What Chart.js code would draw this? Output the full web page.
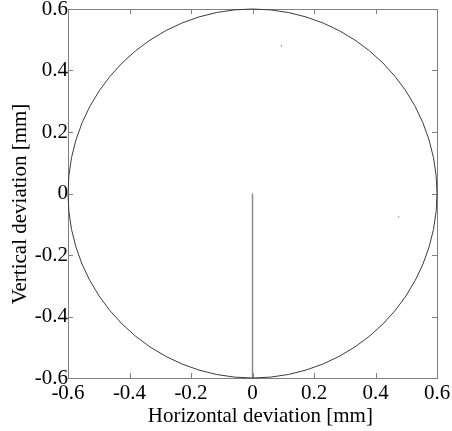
<!DOCTYPE html>
<html>
<head>
<meta charset="utf-8">
<script src="https://cdn.jsdelivr.net/npm/chart.js@4.4.1/dist/chart.umd.min.js"></script>
<style>
  body { margin: 0; background: #fff; }
  canvas { display: block; }
</style>
</head>
<body>
<canvas id="myChart" width="452" height="431"></canvas>
<script>
// axis ticks (mm)
const xTicks = [-0.6, -0.4, -0.2, 0, 0.2, 0.4, 0.6];
const yTicks = [-0.6, -0.4, -0.2, 0, 0.2, 0.4, 0.6];

// tolerance circle
const circleCenter = [0, 0];
const circleRadius = 0.6;

// deviation trace
const traceX = [0, 0];
const traceY = [0, -0.6];

// stray samples
const strayX = [0.094, 0.475];
const strayY = [0.48, -0.076];

const font = { family: '"Liberation Serif", "Times New Roman", serif', size: 21 };
const boxColor = '#808080';
const tickLen = 5;

const toPoints = (xs, ys) => xs.map((x, i) => ({ x: x, y: ys[i] }));
const fixTicks = vals => scale => { scale.ticks = vals.map(v => ({ value: v })); };
const fmt = v => (Math.abs(v) < 1e-9 ? '0' : v.toFixed(1));

// circle drawn in data units through the scales, plus inward tick marks on all four sides
const circlePlugin = {
    id: 'circle',
    afterDatasetsDraw(chart) {
        const xs = chart.scales.x, ys = chart.scales.y;
        const area = chart.chartArea;
        const c = chart.ctx;
        c.save();

        c.strokeStyle = boxColor;
        c.lineWidth = 1;
        c.beginPath();
        xTicks.forEach(v => {
            const px = Math.round(xs.getPixelForValue(v)) + 0.5;
            c.moveTo(px, area.bottom); c.lineTo(px, area.bottom - tickLen);
            c.moveTo(px, area.top); c.lineTo(px, area.top + tickLen);
        });
        yTicks.forEach(v => {
            const py = Math.round(ys.getPixelForValue(v)) + 0.5;
            c.moveTo(area.left, py); c.lineTo(area.left + tickLen, py);
            c.moveTo(area.right, py); c.lineTo(area.right - tickLen, py);
        });
        c.stroke();

        const cx = xs.getPixelForValue(circleCenter[0]);
        const cy = ys.getPixelForValue(circleCenter[1]);
        const rx = xs.getPixelForValue(circleCenter[0] + circleRadius) - cx;
        const ry = cy - ys.getPixelForValue(circleCenter[1] + circleRadius);
        c.strokeStyle = '#3c3c3c';
        c.beginPath();
        c.ellipse(cx, cy, rx, ry, 0, 0, Math.PI * 2);
        c.stroke();
        c.restore();
    }
};

const edgeAxis = (pos) => ({
    type: 'linear',
    position: pos,
    min: -0.6,
    max: 0.6,
    afterBuildTicks: fixTicks(pos === 'top' ? xTicks : yTicks),
    afterFit: s => {
        if (pos === 'top') s.height = 0; else s.width = 0;
        s.paddingTop = s.paddingBottom = s.paddingLeft = s.paddingRight = 0;
    },
    ticks: { display: false },
    grid: { drawOnChartArea: false, drawTicks: false },
    border: { color: boxColor, width: 1 }
});

new Chart(document.getElementById('myChart').getContext('2d'), {
    type: 'scatter',
    data: {
        datasets: [
            {
                data: toPoints(traceX, traceY),
                showLine: true,
                borderColor: '#8c8c8c',
                borderWidth: 1.5,
                pointRadius: 0
            },
            {
                data: toPoints(strayX, strayY),
                pointRadius: 0.8,
                borderWidth: 0,
                backgroundColor: '#9a9a9a'
            }
        ]
    },
    plugins: [circlePlugin],
    options: {
        responsive: false,
        animation: false,
        layout: { padding: { top: 9, right: 15, left: 0, bottom: 0 } },
        plugins: { legend: { display: false }, tooltip: { enabled: false } },
        scales: {
            x: {
                type: 'linear',
                position: 'bottom',
                min: -0.6,
                max: 0.6,
                afterBuildTicks: fixTicks(xTicks),
                afterFit: s => { s.height = 53; s.paddingLeft = s.paddingRight = 0; },
                ticks: { font: font, color: '#000', padding: 3, maxRotation: 0, callback: fmt },
                grid: { drawOnChartArea: false, drawTicks: false },
                border: { color: boxColor, width: 1 },
                title: {
                    display: true,
                    text: '   Horizontal deviation [mm]',
                    font: font,
                    color: '#000',
                    padding: { top: 0, bottom: 2 }
                }
            },
            y: {
                type: 'linear',
                position: 'left',
                min: -0.6,
                max: 0.6,
                afterBuildTicks: fixTicks(yTicks),
                afterFit: s => { s.width = 68; s.paddingTop = s.paddingBottom = 0; },
                ticks: { font: font, color: '#000', padding: 0, callback: fmt },
                grid: { drawOnChartArea: false, drawTicks: false },
                border: { color: boxColor, width: 1 },
                title: {
                    display: true,
                    text: 'Vertical deviation [mm]    ',
                    font: font,
                    color: '#000',
                    padding: { top: 8, bottom: 0 }
                }
            },
            x2: edgeAxis('top'),
            y2: edgeAxis('right')
        }
    }
});
</script>
</body>
</html>
